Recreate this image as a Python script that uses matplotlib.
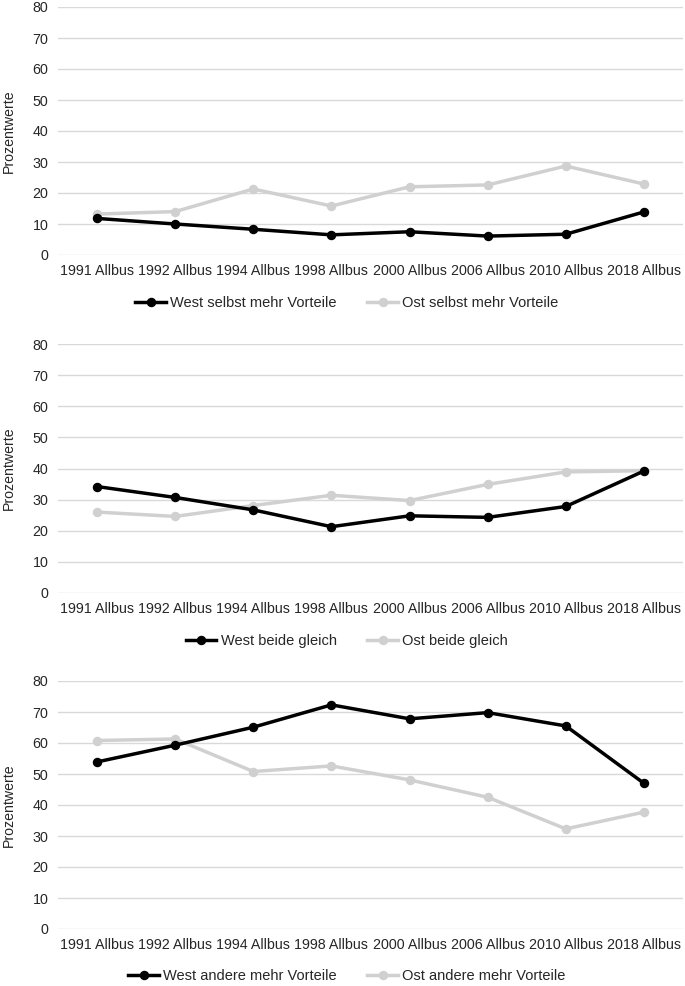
import matplotlib.pyplot as plt

plt.rcParams['font.family'] = ['Liberation Sans', 'DejaVu Sans']

categories = ['1991 Allbus', '1992 Allbus', '1994 Allbus', '1998 Allbus',
              '2000 Allbus', '2006 Allbus', '2010 Allbus', '2018 Allbus']

west_selbst = [11.8, 10.0, 8.3, 6.5, 7.5, 6.1, 6.7, 13.9]
ost_selbst = [13.2, 14.0, 21.3, 15.8, 22.0, 22.6, 28.7, 22.9]

west_gleich = [34.2, 30.7, 26.7, 21.3, 24.8, 24.3, 27.8, 39.2]
ost_gleich = [26.0, 24.6, 28.1, 31.4, 29.7, 34.9, 38.9, 39.3]

west_andere = [53.9, 59.3, 65.1, 72.3, 67.8, 69.8, 65.5, 47.0]
ost_andere = [60.8, 61.3, 50.8, 52.6, 48.1, 42.5, 32.3, 37.7]

panels = [
    (west_selbst, ost_selbst, 'West selbst mehr Vorteile', 'Ost selbst mehr Vorteile'),
    (west_gleich, ost_gleich, 'West beide gleich', 'Ost beide gleich'),
    (west_andere, ost_andere, 'West andere mehr Vorteile', 'Ost andere mehr Vorteile'),
]

W, H = 685, 986
fig = plt.figure(figsize=(W / 100, H / 100), dpi=100)

# pixel positions (top, bottom, legend y) for each panel
boxes = [(7, 255, 303), (344, 593, 641), (681, 929, 976)]
text_col = '#262626'

for (west, ost, wlab, olab), (top, bottom, leg_y) in zip(panels, boxes):
    ax = fig.add_axes([58 / W, 1 - bottom / H, 625 / W, (bottom - top) / H])
    x = range(len(categories))
    ax.plot(x, west, color='black', lw=2.5, marker='o', ms=5.8, label=wlab, zorder=3)
    ax.plot(x, ost, color='#d0d0d0', lw=2.5, marker='o', ms=5.8, label=olab, zorder=2)

    ax.set_xlim(-0.5, len(categories) - 0.5)
    ax.set_ylim(0, 80)
    ax.set_yticks(range(0, 81, 10))
    ax.set_xticks(list(x))
    ax.set_xticklabels(categories)
    ax.tick_params(axis='both', length=0, labelsize=10.3, colors=text_col)
    ax.tick_params(axis='y', pad=7)
    ax.tick_params(axis='x', pad=6.5)
    ax.grid(axis='y', color='#d9d9d9', lw=1)
    ax.set_axisbelow(True)
    for s in ax.spines.values():
        s.set_visible(False)
    ax.set_ylabel('Prozentwerte', fontsize=10.2, color=text_col)
    ax.yaxis.set_label_coords(-42 / 625, 0.5)

    ax.legend(loc='center', bbox_to_anchor=(347 / W, 1 - leg_y / H),
              bbox_transform=fig.transFigure, ncol=2, frameon=False,
              fontsize=10.5, handlelength=2.1, handletextpad=0.3,
              columnspacing=2.1, labelcolor=text_col)

fig.savefig('out.png', dpi=100)
